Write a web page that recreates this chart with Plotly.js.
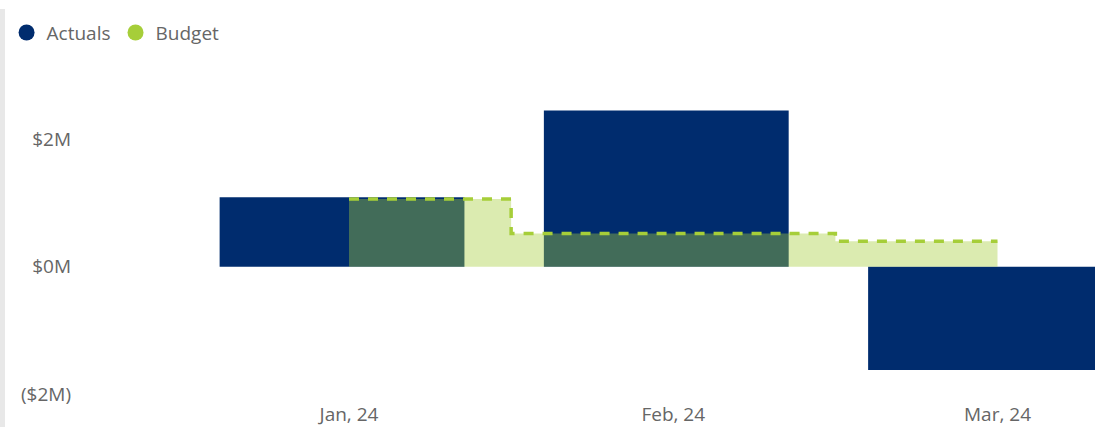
<!DOCTYPE html>
<html>
<head>
<meta charset="utf-8">
<script src="https://cdn.plot.ly/plotly-3.0.1.min.js"></script>
<style>
  html, body { margin: 0; padding: 0; background: #ffffff; }
  #chart { width: 1095px; height: 427px; }
</style>
</head>
<body>
<div id="chart"></div>
<script>
// ---- data ----
const months = ["Jan, 24", "Feb, 24", "Mar, 24"];
const actuals = [1090000, 2450000, -1620000];
const budget = [1060000, 520000, 400000];
const yTickVals = [-2000000, 0, 2000000];
const yTickText = ["($2M)", "$0M", "$2M"];

const navy = "#002C6E";
const green = "#A6CE39";
const textGray = "#666666";
const fontFam = "'Open Sans', 'Noto Sans', sans-serif";

const traces = [
  {
    type: "bar",
    x: months,
    y: actuals,
    name: "Actuals",
    marker: { color: navy, line: { width: 0 } },
    width: 0.755,
    offset: -0.399,
    showlegend: false,
    hoverinfo: "x+y"
  },
  {
    type: "scatter",
    mode: "lines",
    x: months,
    y: budget,
    name: "Budget",
    line: { shape: "hvh", color: green, width: 3.5, dash: "10px,9px" },
    fill: "tozeroy",
    fillcolor: "rgba(166,206,57,0.4)",
    showlegend: false
  },
  {
    type: "scatter", mode: "markers", x: [null], y: [null], name: "Actuals",
    marker: { color: navy, size: 19, symbol: "circle" }, showlegend: true
  },
  {
    type: "scatter", mode: "markers", x: [null], y: [null], name: "Budget",
    marker: { color: green, size: 19, symbol: "circle" }, showlegend: true
  }
];

const layout = {
  width: 1095,
  height: 427,
  margin: { l: 80, r: 0, t: 40, b: 26, pad: 0, autoexpand: false },
  paper_bgcolor: "#ffffff",
  plot_bgcolor: "#ffffff",
  font: { family: fontFam, color: textGray, size: 19 },
  barmode: "overlay",
  showlegend: true,
  legend: {
    orientation: "h",
    xref: "container", yref: "container",
    x: 0.006, y: 0.968, xanchor: "left", yanchor: "top",
    font: { family: fontFam, size: 19, color: textGray },
    itemclick: false, itemdoubleclick: false,
    tracegroupgap: 0,
    itemwidth: 30
  },
  xaxis: {
    type: "category",
    range: [-0.8296, 2.3007],
    showgrid: false, zeroline: false, showline: false,
    ticks: "",
    tickfont: { family: fontFam, size: 19, color: textGray },
    fixedrange: true
  },
  yaxis: {
    range: [-2.107e6, 3.556e6],
    tickvals: yTickVals,
    ticktext: yTickText,
    showgrid: false, zeroline: false, showline: false,
    ticks: "",
    ticklabelstandoff: 8,
    tickfont: { family: fontFam, size: 19, color: textGray },
    fixedrange: true
  },
  shapes: [
    {
      type: "rect", xref: "paper", yref: "paper", layer: "below",
      x0: -80 / 1015, x1: -75 / 1015,
      y0: (401 - 427) / 361, y1: (401 - 9) / 361,
      fillcolor: "#e8e8e8", line: { width: 0 }
    }
  ]
};

Plotly.newPlot("chart", traces, layout, { displayModeBar: false, staticPlot: true });
</script>
</body>
</html>
